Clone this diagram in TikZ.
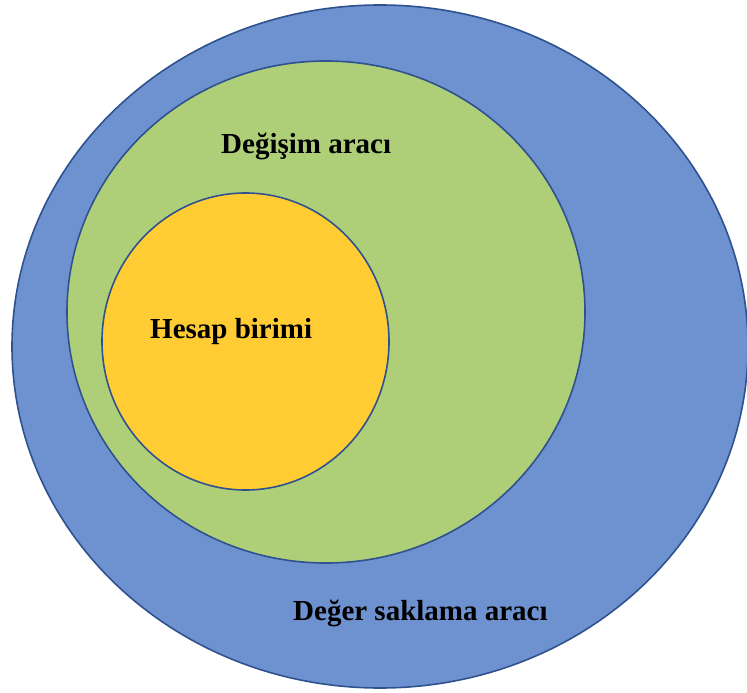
\documentclass[tikz,border=0pt]{standalone}
\usepackage{fontspec}
\setmainfont{Liberation Serif}
\usetikzlibrary{shapes.geometric}
\definecolor{storeblue}{RGB}{110,145,207}
\definecolor{exchgreen}{RGB}{174,207,120}
\definecolor{unityellow}{RGB}{255,204,51}
\definecolor{rimblue}{RGB}{47,82,143}
\tikzset{
  ring/.style={ellipse, draw=rimblue, line width=1.6bp, inner sep=0pt},
  lbl/.style={anchor=base west, inner sep=0pt, font=\bfseries\fontsize{29.1}{31}\selectfont}
}
\begin{document}
\begin{tikzpicture}[x=1bp,y=-1bp]
  \useasboundingbox (0,0) rectangle (747,693);
  % nested functions of money
  \node[ring, fill=storeblue, minimum width=736bp, minimum height=683bp] (store) at (380,346.5) {};
  \node[ring, fill=exchgreen, minimum width=518bp, minimum height=502bp] (exchange) at (326,312) {};
  \node[ring, fill=unityellow, minimum width=287bp, minimum height=297bp] (unit) at (245.5,341.5) {};
  % labels
  \node[lbl] (exchangelbl) at (221,153) {Değişim aracı};
  \node[lbl] (unitlbl) at (150,338) {Hesap birimi};
  \node[lbl] (storelbl) at (293,620) {Değer saklama aracı};
\end{tikzpicture}
\end{document}
